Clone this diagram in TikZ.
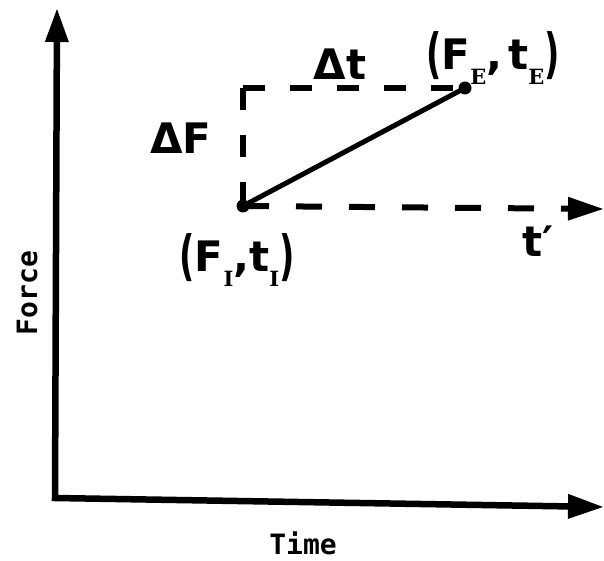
\documentclass[tikz,border=0pt]{standalone}
\usepackage{graphicx}
\usepackage{fontspec}
\setmainfont{DejaVu Sans}
\newfontfamily\axfont{DejaVu Sans Mono}
\newfontfamily\subfont{DejaVu Serif}
\usetikzlibrary{arrows.meta}
\newcommand\lsub[1]{\raisebox{-0.36em}{\subfont\bfseries\fontsize{21}{23}\selectfont #1}}
\newcommand\bigp[1]{{\fontsize{54}{58}\selectfont\raisebox{-0.04em}{\scalebox{0.62}[1]{#1}}}}
\begin{document}
\begin{tikzpicture}[x=1pt,y=-1pt,
  axisline/.style={line width=6.5pt, line join=miter,
    {Triangle[length=34pt,width=22pt]}-{Triangle[length=36pt,width=23pt]}},
  dsh/.style={line width=6pt, dash pattern=on 22pt off 25pt},
  dsharrow/.style={line width=6pt, dash pattern=on 26pt off 27pt,
    -{Triangle[length=36pt,width=22pt]}},
  seg/.style={line width=5pt},
  dot/.style={circle, fill, inner sep=0pt, minimum size=13pt},
  lbl/.style={font=\fontsize{42}{46}\selectfont\bfseries, inner sep=0pt},
  axlbl/.style={font=\axfont\fontsize{28}{30}\selectfont\bfseries, inner sep=0pt}]
\useasboundingbox (0,0) rectangle (604,561);
% axes
\coordinate (O) at (55,498);
\coordinate (ytip) at (57,8);
\coordinate (xtip) at (604,507);
\draw[axisline] (ytip) -- (O) -- (xtip);
% points
\node[dot] (I) at (243,206) {};
\node[dot] (E) at (465,88) {};
\coordinate (C) at (I |- E);
\coordinate (tp) at (604,209);
\draw[dsh] (C) -- (I.center);
\draw[dsh] (C) -- (E.center);
\draw[dsharrow] (I.center) -- (tp);
\draw[seg] (I.center) -- (E.center);
% labels
\node[lbl] (dt) at (340,64) {Δt};
\node[lbl] (dF) at (181,138) {ΔF};
\node[lbl] (tpl) at (538,241) {t′};
\node[lbl] (lE) at (493,58) {\bigp{(}F\lsub{E},\hspace{6pt}t\lsub{E}\bigp{)}};
\node[lbl] (lI) at (237,260) {\bigp{(}F\lsub{I},t\lsub{I}\bigp{)}};
\node[axlbl] (time) at (303,543) {Time};
\node[axlbl, rotate=90] (force) at (27,293) {Force};
\end{tikzpicture}
\end{document}
